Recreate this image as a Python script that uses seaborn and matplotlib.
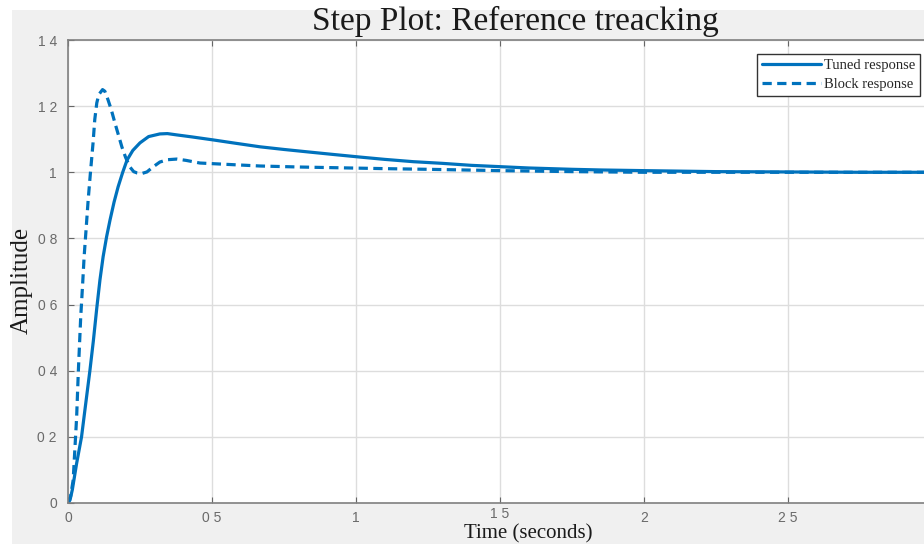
import matplotlib
matplotlib.use("Agg")
import matplotlib.pyplot as plt
from matplotlib.patches import Rectangle
from matplotlib.transforms import ScaledTranslation
import numpy as np
import pandas as pd
import seaborn as sns

# Step response samples (time in seconds, amplitude)
t_tuned = [0, 0.007, 0.015, 0.03, 0.047, 0.06, 0.076, 0.088, 0.1, 0.111,
           0.122, 0.134, 0.146, 0.16, 0.174, 0.19, 0.205, 0.225, 0.25, 0.28,
           0.319, 0.345, 0.378, 0.43, 0.503, 0.58, 0.667, 0.75, 0.84, 0.92,
           1.014, 1.1, 1.2, 1.3, 1.4, 1.5, 1.6, 1.75, 1.85, 2.0,
           2.25, 2.5, 2.75, 3.0]
a_tuned = [0, 0.009, 0.04, 0.12, 0.2, 0.29, 0.40, 0.49, 0.59, 0.675,
           0.745, 0.805, 0.856, 0.91, 0.956, 1.0, 1.037, 1.066, 1.089, 1.108,
           1.116, 1.117, 1.113, 1.107, 1.098, 1.088, 1.077, 1.069, 1.061, 1.054,
           1.046, 1.039, 1.032, 1.027, 1.021, 1.017, 1.013, 1.009, 1.007, 1.005,
           1.002, 1.001, 1.0, 1.0]

t_block = [0, 0.009, 0.018, 0.03, 0.036, 0.044, 0.051, 0.056, 0.063, 0.07,
           0.078, 0.087, 0.093, 0.1, 0.107, 0.12, 0.128, 0.139, 0.15, 0.163,
           0.175, 0.187, 0.2, 0.215, 0.228, 0.24, 0.255, 0.274, 0.295, 0.319,
           0.345, 0.378, 0.41, 0.458, 0.55, 0.667, 0.8, 0.979, 1.1, 1.25,
           1.5, 1.75, 2.0, 2.5, 3.0]
a_block = [0, 0.02, 0.07, 0.26, 0.40, 0.56, 0.665, 0.745, 0.83, 0.916,
           1.0, 1.089, 1.16, 1.21, 1.235, 1.25, 1.245, 1.219, 1.19, 1.149,
           1.113, 1.077, 1.045, 1.016, 1.002, 0.998, 0.996, 1.001, 1.016, 1.031,
           1.038, 1.040, 1.036, 1.028, 1.024, 1.019, 1.016, 1.013, 1.011, 1.009,
           1.005, 1.002, 1.0, 1.0, 1.0]

series_names = ["Tuned response", "Block response"]

x_ticks = [0, 0.5, 1, 1.5, 2, 2.5]
x_tick_labels = ["0", "0 5", "1", "1 5", "2", "2 5"]
y_ticks = [0, 0.2, 0.4, 0.6, 0.8, 1.0, 1.2, 1.4]
y_tick_labels = ["0", "0 2", "0 4", "0 6", "0 8", "1", "1 2", "1 4"]

df = pd.concat([
    pd.DataFrame({"Time": t_tuned, "Amplitude": a_tuned, "System": series_names[0]}),
    pd.DataFrame({"Time": t_block, "Amplitude": a_block, "System": series_names[1]}),
], ignore_index=True)

sns.set_theme(style="whitegrid")
serif = ["Liberation Serif", "DejaVu Serif"]
sans = ["Liberation Sans", "DejaVu Sans"]

W, H = 924, 544
fig = plt.figure(figsize=(W / 100, H / 100), dpi=100, facecolor="white")
fig.patches.append(Rectangle((12 / W, 0), 1, (H - 10) / H, transform=fig.transFigure,
                             facecolor="#f0f0f0", edgecolor="none", zorder=-10))

ax = fig.add_axes([68 / W, 41 / H, 1 - 68 / W, 463 / H])
ax.set_zorder(1)
ax.set_facecolor("white")

blue = "#0072BD"
sns.lineplot(data=df, x="Time", y="Amplitude", hue="System", style="System",
             palette=[blue, blue], dashes=[(None, None), (2.9, 1.7)],
             linewidth=2.3, ax=ax, sort=False, legend=True)

x_max = (W - 68) / 288
ax.set_xlim(0, x_max)
ax.set_ylim(0, 1.4)
ax.set_xticks(x_ticks)
ax.set_xticklabels(x_tick_labels, family=sans, fontsize=10, color="#6a6a6a")
ax.set_yticks(y_ticks)
ax.set_yticklabels(y_tick_labels, family=sans, fontsize=10, color="#6a6a6a")
ax.tick_params(axis="both", direction="in", length=4, width=0.8, color="#666666",
               top=True, right=False, bottom=True, left=True)
ax.tick_params(axis="x", pad=6)
ax.tick_params(axis="y", pad=8)
# the middle tick label sits a little higher, clear of the axis label
mid = ax.get_xticklabels()[3]
mid.set_transform(mid.get_transform() + ScaledTranslation(0, 4 / 100, fig.dpi_scale_trans))
ax.grid(True, color="#dddddd", linewidth=1.0)
for side in ["left", "bottom", "top"]:
    ax.spines[side].set_visible(True)
    ax.spines[side].set_color("#808080")
    ax.spines[side].set_linewidth(1.2)
ax.spines["right"].set_visible(False)

ax.set_xlabel("")
ax.set_ylabel("")
fig.text(515 / W, 1 - 21 / H, "Step Plot: Reference treacking", family=serif,
         fontsize=24, ha="center", va="center", color="#1a1a1a")
fig.text(528 / W, 0.5 / H, "Time (seconds)", family=serif, fontsize=15,
         ha="center", va="bottom", color="#1a1a1a")
fig.text(22 / W, 1 - 280 / H, "Amplitude", family=serif, fontsize=18,
         ha="center", va="center", rotation=90, color="#1a1a1a")

handles, labels = ax.get_legend_handles_labels()
leg = ax.legend(handles, labels, loc="upper right",
                bbox_to_anchor=(1 - 4 / (W - 68), 1 - 14 / 463),
                prop={"family": serif, "size": 10.5}, frameon=True, fancybox=False,
                edgecolor="#333333", framealpha=1, handlelength=4.0,
                handletextpad=0.2, borderpad=0.35, labelspacing=0.35,
                borderaxespad=0)
leg.get_frame().set_linewidth(1.0)

fig.savefig("out.png", dpi=100, facecolor="white")
